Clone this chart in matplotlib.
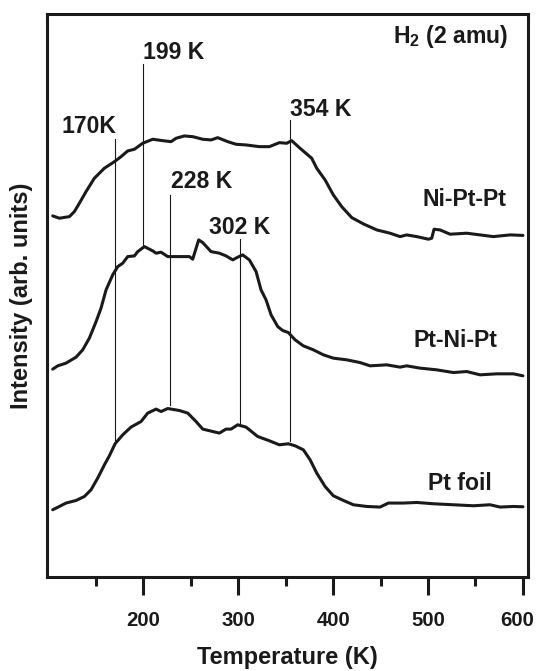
import matplotlib
matplotlib.use("Agg")
import matplotlib.pyplot as plt
import matplotlib.transforms as mtransforms
from matplotlib.ticker import FixedLocator

# Ni-Pt-Pt trace (temperature K, intensity arb. units)
ni_pt_pt_t = [104.5, 111.5, 122.1, 127.3, 132.6, 139.6, 148.4, 158.9, 169.5, 176.5, 183.5,
              190.6, 199.3, 209.9, 220.4, 229.2, 234.5, 243.2, 252.0, 262.6, 271.3, 278.4,
              288.9, 297.7, 308.2, 322.3, 332.8, 343.3, 351.1, 356.3, 365.1, 377.4, 382.7,
              391.5, 400.2, 409.0, 419.6, 431.9, 445.9, 460.0, 470.5, 477.5, 488.1, 500.4,
              503.9, 506.3, 512.6, 523.2, 540.7, 554.8, 568.8, 586.4, 600.0]
ni_pt_pt_i = [361.0, 358.7, 360.3, 365.3, 373.7, 385.3, 398.7, 408.7, 415.3, 420.3, 426.0,
              427.7, 433.7, 437.7, 436.3, 435.3, 438.7, 441.0, 440.3, 437.7, 437.0, 439.3,
              435.3, 432.7, 432.0, 430.3, 430.3, 434.3, 433.7, 436.3, 428.7, 418.7, 408.7,
              397.0, 382.0, 370.3, 359.3, 353.0, 347.0, 343.7, 340.3, 342.0, 340.3, 337.7,
              338.7, 347.7, 347.0, 342.7, 343.7, 342.0, 340.3, 342.0, 341.5]

# Pt-Ni-Pt trace
pt_ni_pt_t = [104.5, 109.8, 118.5, 129.1, 136.1, 143.1, 150.2, 155.4, 160.7, 167.7, 173.0,
              178.3, 183.5, 190.6, 194.1, 201.1, 209.9, 213.4, 218.7, 225.7, 248.5, 252.0,
              258.3, 262.6, 271.3, 280.1, 287.1, 294.2, 299.4, 304.7, 311.7, 318.8, 324.0,
              329.3, 334.6, 341.6, 346.9, 352.8, 359.9, 368.6, 379.2, 389.7, 400.2, 414.3,
              428.3, 438.9, 456.4, 470.5, 477.5, 491.6, 509.1, 526.7, 540.7, 554.8, 572.4,
              589.9, 600.0]
pt_ni_pt_i = [207.7, 211.0, 213.7, 219.7, 227.0, 238.7, 255.3, 268.7, 287.0, 302.0, 310.3,
              313.7, 320.3, 321.0, 325.3, 330.3, 326.0, 323.7, 324.7, 320.3, 320.3, 317.7,
              337.0, 334.3, 325.3, 323.7, 321.0, 317.0, 319.7, 322.0, 317.0, 305.3, 287.0,
              277.0, 262.0, 250.3, 246.3, 244.3, 237.0, 231.0, 227.0, 222.0, 218.7, 217.0,
              214.3, 211.0, 212.0, 209.7, 211.0, 208.7, 207.0, 204.3, 205.3, 202.0, 203.0,
              203.0, 201.0]

# Pt foil trace
pt_foil_t = [104.5, 111.5, 118.5, 129.1, 137.9, 144.9, 151.9, 159.0, 164.2, 170.2, 178.3,
             187.0, 197.6, 204.6, 213.4, 218.7, 225.7, 238.0, 246.8, 255.5, 262.6, 273.1,
             280.1, 287.1, 292.4, 299.4, 308.2, 320.5, 332.8, 343.3, 352.8, 359.9, 368.6,
             375.7, 382.7, 391.5, 400.2, 410.8, 421.3, 435.4, 449.4, 458.2, 474.0, 488.1,
             505.6, 526.7, 547.8, 565.3, 575.9, 589.9, 600.0]
pt_foil_i = [67.0, 70.3, 73.7, 76.3, 80.3, 87.0, 98.7, 112.0, 121.0, 133.0, 142.0,
             149.7, 155.3, 163.7, 167.7, 165.3, 168.3, 166.3, 163.7, 155.3, 147.7, 145.3,
             143.7, 147.7, 147.7, 152.0, 149.7, 140.3, 136.0, 132.0, 133.0, 131.0, 127.0,
             117.0, 103.7, 90.3, 81.0, 76.3, 72.0, 70.3, 69.7, 73.7, 73.7, 74.3,
             73.0, 72.0, 71.0, 72.0, 69.7, 70.3, 70.0]

# peak markers
peak_labels = ["170K", "199 K", "228 K", "302 K", "354 K"]
peak_t = [170.5, 199.4, 228.1, 301.9, 354.6]
peak_top = [437.7, 512.7, 382.0, 337.5, 457.0]
peak_bottom = [133.0, 332.0, 172.0, 153.7, 135.3]

INK = "#1a1a1a"

plt.rcParams["font.family"] = ["Liberation Sans", "DejaVu Sans"]
plt.rcParams["font.weight"] = "bold"
plt.rcParams["mathtext.fontset"] = "custom"
plt.rcParams["mathtext.bf"] = "Liberation Sans:bold"
plt.rcParams["mathtext.rm"] = "Liberation Sans:bold"

fig = plt.figure(figsize=(5.37, 6.71), dpi=100)
ax = fig.add_axes([0.0881, 0.1405, 0.8951, 0.8386])

for t, i in [(ni_pt_pt_t, ni_pt_pt_i), (pt_ni_pt_t, pt_ni_pt_i), (pt_foil_t, pt_foil_i)]:
    ax.plot(t, i, color=INK, lw=2.2, solid_joinstyle="round", solid_capstyle="round")

for t, top, bot in zip(peak_t, peak_top, peak_bottom):
    ax.plot([t, t], [bot, top], color=INK, lw=0.8)

label_pos = [(113.3, 443.5), (200.0, 517.7), (229.2, 388.7), (269.1, 343.0), (355.0, 460.6)]
for text, (x, y) in zip(peak_labels, label_pos):
    ax.text(x, y, text, fontsize=16.6, fontweight="bold", ha="left", va="baseline", color=INK)

ax.text(585, 534, r"H$_\mathbf{2}$ (2 amu)", fontsize=16.6, fontweight="bold",
        ha="right", va="baseline", color=INK)
ax.text(582.9, 371.0, "Ni-Pt-Pt", fontsize=16.6, fontweight="bold", ha="right",
        va="baseline", color=INK)
ax.text(573.1, 229.7, "Pt-Ni-Pt", fontsize=16.6, fontweight="bold", ha="right",
        va="baseline", color=INK)
ax.text(567.1, 86.3, "Pt foil", fontsize=16.6, fontweight="bold", ha="right",
        va="baseline", color=INK)

ax.set_xlim(98.8, 605.3)
ax.set_ylim(0, 563)
ax.xaxis.set_major_locator(FixedLocator([200, 300, 400, 500, 600]))
ax.xaxis.set_minor_locator(FixedLocator([150, 250, 350, 450, 550]))
ax.tick_params(axis="x", which="major", direction="out", length=13, width=2.2,
               labelsize=14.7, pad=12, colors=INK)
ax.tick_params(axis="x", which="minor", direction="out", length=6.5, width=2.2, colors=INK)
ax.set_yticks([])
for sp in ax.spines.values():
    sp.set_linewidth(2.2)
    sp.set_color(INK)

ax.set_xlabel("Temperature (K)", fontsize=17, fontweight="bold", labelpad=11.5, color=INK)
ax.set_ylabel("Intensity (arb. units)", fontsize=17, fontweight="bold", labelpad=10, color=INK)

# keep the last tick label inside the canvas
fig.canvas.draw()
last = ax.get_xticklabels()[-1]
last.set_transform(last.get_transform() +
                   mtransforms.ScaledTranslation(-4 / 72, 0, fig.dpi_scale_trans))

fig.savefig("out.png", dpi=100)
